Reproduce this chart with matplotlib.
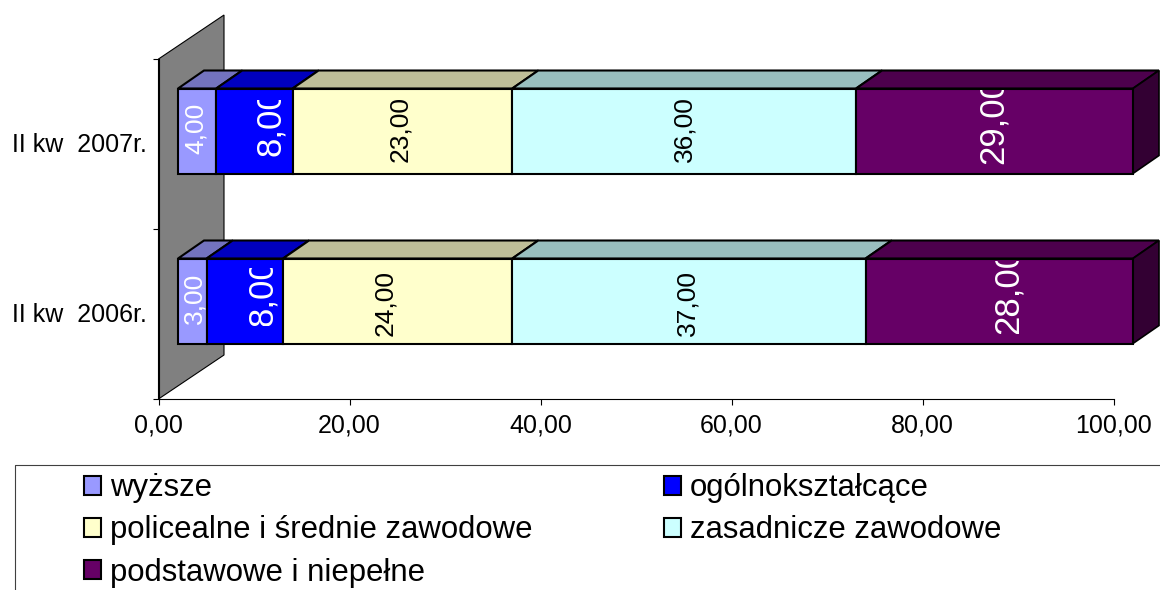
import matplotlib
matplotlib.use('Agg')
import matplotlib.pyplot as plt
from matplotlib.lines import Line2D
from matplotlib.patches import Polygon, Rectangle
from matplotlib.transforms import ScaledTranslation

plt.rcParams['font.family'] = ['Liberation Sans', 'DejaVu Sans']

# data
quarters = ['II kw  2006r.', 'II kw  2007r.']
series = ['wyższe', 'ogólnokształcące', 'policealne i średnie zawodowe',
          'zasadnicze zawodowe', 'podstawowe i niepełne']
vals_2006 = [3, 8, 24, 37, 28]
vals_2007 = [4, 8, 23, 36, 29]
x_ticks = [0, 20, 40, 60, 80, 100]

# colours
front_cols = ['#9999FF', '#0000FF', '#FFFFCC', '#CCFFFF', '#660066']
top_cols = ['#7373BF', '#0000BF', '#BFBF99', '#99BFBF', '#4D004D']
side_col = '#330033'
label_cols = ['white', 'white', 'black', 'black', 'white']
label_sizes = [19, 25, 19, 19, 25]

# label placement in pixels: shift from bar centre, rise from bar bottom, visible length
label_dx = [[2, 18, -13, -1, 9], [-1, 16, -2, 0, -1]]
label_rise = [[20, 18, 8, 8, 10], [19, 17, 12, 12, 9]]
label_len = [[None, 58, None, None, 73], [None, 57, None, None, 75]]

# pixel <-> data sizes of the fake 3D box
PX_X = 955 / 100
PX_Y = 170
off_x, off_y = 19.5 / PX_X, 13 / PX_Y    # front of the bars, from the wall
dep_x, dep_y = 26 / PX_X, 18 / PX_Y      # depth of the bars
wall_x, wall_y = 65.5 / PX_X, 44 / PX_Y  # depth of the wall
bar_h = 85 / PX_Y

fig = plt.figure(figsize=(11.6, 5.9), dpi=100)
ax = fig.add_axes([158.5 / 1160, 191 / 590, 955 / 1160, 340 / 590])
ax.set_xlim(0, 100)
ax.set_ylim(-0.5, 1.5)

wall = Polygon([(0, -0.5), (wall_x, -0.5 + wall_y), (wall_x, 1.5 + wall_y), (0, 1.5)],
               closed=True, fc='#808080', ec='black', lw=0.8, clip_on=False, zorder=1)
ax.add_patch(wall)

handles = []
for row, vals in enumerate([vals_2006, vals_2007]):
    left = off_x
    yc = row + off_y
    ytop = yc + bar_h / 2
    for i, v in enumerate(vals):
        bar = ax.barh(yc, v, left=left, height=bar_h, color=front_cols[i], edgecolor='black',
                      linewidth=1.5, clip_on=False, zorder=3)
        top = Polygon([(left, ytop), (left + v, ytop), (left + v + dep_x, ytop + dep_y),
                       (left + dep_x, ytop + dep_y)],
                      closed=True, fc=top_cols[i], ec='black', lw=1.5, clip_on=False, zorder=2)
        ax.add_patch(top)
        if row == 0:
            handles.append(bar[0])

        lx = left + v / 2 + label_dx[row][i] / PX_X
        ly = yc - bar_h / 2 + label_rise[row][i] / PX_Y
        t = ax.text(lx, ly, f'{v:.2f}'.replace('.', ','), rotation=90, ha='center', va='bottom',
                    fontsize=label_sizes[i], color=label_cols[i], zorder=5, clip_on=False)
        if label_len[row][i] is not None:
            # these labels get cut at the top in the original
            clip = Rectangle((left, ly), v * 2, label_len[row][i] / PX_Y, transform=ax.transData)
            t.set_clip_path(clip)
            t.set_clip_on(True)
        left += v
    # right end of the row
    side = Polygon([(left, ytop), (left + dep_x, ytop + dep_y),
                    (left + dep_x, ytop + dep_y - bar_h), (left, ytop - bar_h)],
                   closed=True, fc=side_col, ec='black', lw=1.2, clip_on=False, zorder=2)
    ax.add_patch(side)

# axes
for s in ['top', 'right']:
    ax.spines[s].set_visible(False)
for s in ['left', 'bottom']:
    ax.spines[s].set_linewidth(0.8)
ax.set_xticks(x_ticks)
ax.set_xticklabels([f'{x:.2f}'.replace('.', ',') for x in x_ticks], fontsize=18)
ax.tick_params(axis='x', length=4.5, width=0.8, pad=6)
ax.set_yticks([-0.5, 0.5, 1.5])
ax.set_yticklabels([])
ax.tick_params(axis='y', which='major', length=4.5, width=0.8)
ax.set_yticks([0, 1], quarters, minor=True, fontsize=18)
ax.tick_params(axis='y', which='minor', length=0, pad=8.5)
for lab in ax.get_yticklabels(minor=True):
    lab.set_transform(lab.get_transform() + ScaledTranslation(0, 2 / 100, fig.dpi_scale_trans))

# legend, with its box cut off at right and bottom
order = [0, 2, 4, 1, 3]
fig.legend([handles[i] for i in order], [series[i] for i in order], ncol=2, frameon=False,
           loc='upper left', bbox_to_anchor=(75 / 1160, 1 - 464 / 590), fontsize=22.4,
           handlelength=0.55, handleheight=0.55, handletextpad=0.29, labelspacing=0.39,
           columnspacing=4.2, borderpad=0.3, borderaxespad=0)
fig.add_artist(Line2D([14.5 / 1160, 14.5 / 1160, 1], [0, 1 - 464.5 / 590, 1 - 464.5 / 590],
                      color='#404040', lw=0.8, transform=fig.transFigure))

fig.savefig('out.png', dpi=100, facecolor='white')
